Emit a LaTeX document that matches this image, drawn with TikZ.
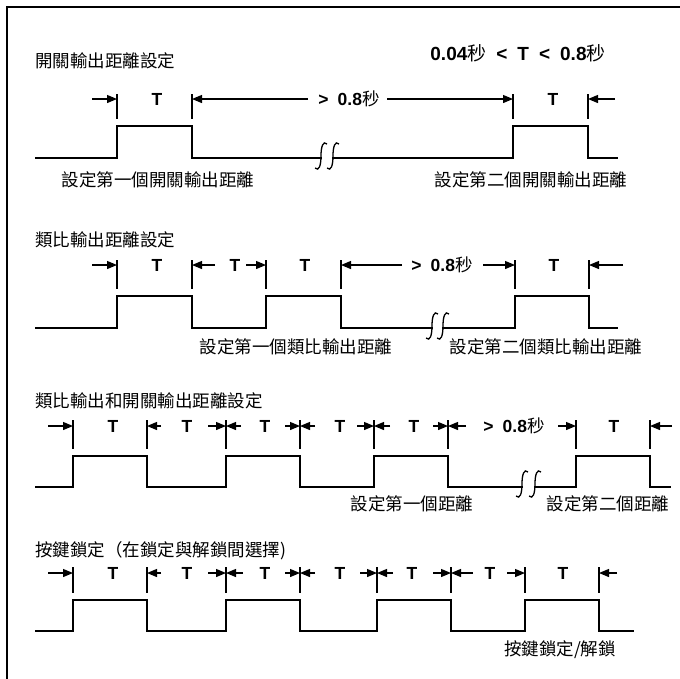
\documentclass[tikz,border=0pt]{standalone}
\usepackage{fontspec}
\setmainfont{Liberation Sans}
\newfontfamily\cjk{Noto Sans CJK TC}
\usetikzlibrary{arrows.meta}
\tikzset{
  wave/.style={line width=1.6pt, line join=miter, line cap=rect},
  ticker/.style={line width=1.2pt},
  dimarrow/.style={line width=1.2pt, -{Triangle[length=10pt,width=8pt]}},
  brk/.style={line width=1.3pt},
  zh/.style={font=\cjk\fontsize{17.5}{20}\selectfont, inner sep=0pt},
  sectitle/.style={zh, anchor=west},
  tlab/.style={font=\bfseries\fontsize{17.5}{20}\selectfont, inner sep=0pt},
  sbrk/.pic={\draw[brk] (6,-12) .. controls (2,-16) and (0,-9) .. (0,0) .. controls (0,9) and (-2,16) .. (-6,12);}
}
\newcommand{\gtsec}{{\fontsize{17.5}{20}\selectfont\textbf{>}\hspace{9pt}\textbf{0.8}{\cjk 秒}}}
\begin{document}
\begin{tikzpicture}[x=1pt,y=-1pt]
\useasboundingbox (0,0) rectangle (680,678);
% frame
\draw[line width=2.6pt] (7,680) -- (7,7) -- (682,7);

% ================= Section 1 =================
\node[sectitle] (t1) at (35,61) {開關輸出距離設定};
\node[font=\fontsize{19}{22}\selectfont, inner sep=0pt] (rng) at (518,53)
  {\textbf{0.04}{\cjk 秒}\hspace{10pt}\textbf{<}\hspace{10pt}\textbf{T}\hspace{10pt}\textbf{<}\hspace{10pt}\textbf{0.8}{\cjk 秒}};
\draw[wave] (36,158) -- (117,158) -- (117,126) -- (192,126) -- (192,158) -- (321,158);
\draw[wave] (333,158) -- (513,158) -- (513,126) -- (588,126) -- (588,158) -- (617,158);
\pic at (321,156) {sbrk};
\pic at (333,156) {sbrk};
\foreach \x in {117,192,513,588} \draw[ticker] (\x,94) -- (\x,119);
\foreach \f/\t [count=\i] in {92/117, 308/192, 387/513, 615/588} {
  \coordinate (s1f\i) at (\f,99); \coordinate (s1t\i) at (\t,99);
  \draw[dimarrow] (s1f\i) -- (s1t\i);
}
\foreach \x [count=\i] in {157,553} \node[tlab] (s1T\i) at (\x,99) {T};
\node[inner sep=0pt] (s1g) at (349,99) {\gtsec};
\node[zh] (l11) at (158,180) {設定第一個開關輸出距離};
\node[zh] (l12) at (531,180) {設定第二個開關輸出距離};

% ================= Section 2 =================
\node[sectitle] (t2) at (35,240) {類比輸出距離設定};
\draw[wave] (36,328) -- (117,328) -- (117,296) -- (192,296) -- (192,328) -- (266,328) -- (266,296) -- (341,296) -- (341,328) -- (432,328);
\draw[wave] (443,328) -- (515,328) -- (515,296) -- (589,296) -- (589,328) -- (617,328);
\pic at (432,326) {sbrk};
\pic at (443,326) {sbrk};
\foreach \x in {117,192,266,341,515,589} \draw[ticker] (\x,260) -- (\x,289);
\foreach \f/\t [count=\i] in {92/117, 215/192, 246/266, 402/341, 483/515, 623/589} {
  \coordinate (s2f\i) at (\f,265); \coordinate (s2t\i) at (\t,265);
  \draw[dimarrow] (s2f\i) -- (s2t\i);
}
\foreach \x [count=\i] in {157,235,305,554} \node[tlab] (s2T\i) at (\x,265) {T};
\node[inner sep=0pt] (s2g) at (442,265) {\gtsec};
\node[zh] (l21) at (296,347) {設定第一個類比輸出距離};
\node[zh] (l22) at (546,347) {設定第二個類比輸出距離};

% ================= Section 3 =================
\node[sectitle] (t3) at (35,401) {類比輸出和開關輸出距離設定};
\draw[wave] (36,487) -- (73,487) -- (73,456) -- (147,456) -- (147,487) -- (226,487) -- (226,456) -- (300,456) -- (300,487) -- (374,487) -- (374,456) -- (448,456) -- (448,487) -- (522,487);
\draw[wave] (535,487) -- (576,487) -- (576,456) -- (650,456) -- (650,487) -- (670,487);
\pic at (522,484) {sbrk};
\pic at (535,484) {sbrk};
\foreach \x in {73,147,226,300,374,448,576,650} \draw[ticker] (\x,420) -- (\x,449);
\foreach \f/\t [count=\i] in {48/73, 161/147, 208/226, 241/226, 285/300, 315/300, 357/374, 390/374, 433/448, 466/448, 558/576, 672/650} {
  \coordinate (s3f\i) at (\f,426); \coordinate (s3t\i) at (\t,426);
  \draw[dimarrow] (s3f\i) -- (s3t\i);
}
\foreach \x [count=\i] in {113,187,265,340,414,614} \node[tlab] (s3T\i) at (\x,426) {T};
\node[inner sep=0pt] (s3g) at (514,426) {\gtsec};
\node[zh] (l31) at (412,504) {設定第一個距離};
\node[zh] (l32) at (608,504) {設定第二個距離};

% ================= Section 4 =================
\node[sectitle] (t4) at (35,551) {按鍵鎖定（在鎖定與解鎖間選擇)};
\draw[wave] (36,631) -- (73,631) -- (73,600) -- (147,600) -- (147,631) -- (226,631) -- (226,600) -- (300,600) -- (300,631) -- (377,631) -- (377,600) -- (451,600) -- (451,631) -- (525,631) -- (525,600) -- (599,600) -- (599,631) -- (633,631);
\foreach \x in {73,147,226,300,377,451,525,599} \draw[ticker] (\x,567) -- (\x,593);
\foreach \f/\t [count=\i] in {48/73, 161/147, 208/226, 243/226, 285/300, 315/300, 360/377, 393/377, 433/451, 473/451, 507/525, 617/599} {
  \coordinate (s4f\i) at (\f,573); \coordinate (s4t\i) at (\t,573);
  \draw[dimarrow] (s4f\i) -- (s4t\i);
}
\foreach \x [count=\i] in {113,187,265,340,412,490,563} \node[tlab] (s4T\i) at (\x,573) {T};
\node[zh] (l41) at (560,650) {按鍵鎖定/解鎖};
\end{tikzpicture}
\end{document}
